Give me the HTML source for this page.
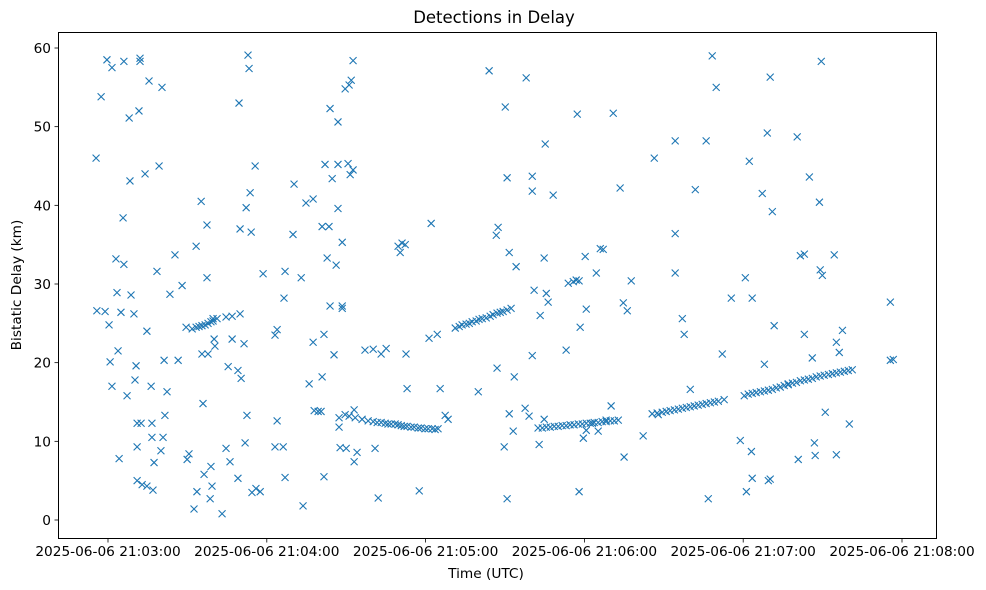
<!DOCTYPE html>
<html><head><meta charset="utf-8"><style>
html,body{margin:0;padding:0;background:#fff;}
svg{display:block;font-family:"DejaVu Sans","Liberation Sans",sans-serif;}
</style></head><body>
<svg id="chart" width="986" height="590" viewBox="0 0 986 590" xmlns="http://www.w3.org/2000/svg">
<rect x="0" y="0" width="986" height="590" fill="#fff"/>
<text x="494" y="23" text-anchor="middle" font-size="16.5" fill="#000">Detections in Delay</text>
<text x="486" y="578" text-anchor="middle" font-size="13.7" fill="#000">Time (UTC)</text>
<text transform="translate(21,285) rotate(-90)" text-anchor="middle" font-size="13.7" fill="#000">Bistatic Delay (km)</text>
<g id="marks"></g>
<g id="axes"></g>
<rect x="58.5" y="32.5" width="878" height="506" fill="none" stroke="#000" stroke-width="1"/>
</svg>
<script>
// time: seconds after 2025-06-06 21:03:00 UTC; delay: km
const xTickSeconds = [0, 60, 120, 180, 240, 300];
const xTickLabels = ["2025-06-06 21:03:00","2025-06-06 21:04:00","2025-06-06 21:05:00","2025-06-06 21:06:00","2025-06-06 21:07:00","2025-06-06 21:08:00"];
const yTickValues = [0, 10, 20, 30, 40, 50, 60];
const scatterDetections = [
[-4.5,46],[-4.2,26.6],[-2.6,53.8],[-1.1,26.5],[-0.4,58.5],[0.4,24.8],[0.8,20.1],[1.5,57.5],[1.5,17],[3,33.2],[3.4,28.9],[3.8,21.5],[4.2,7.8],[4.9,26.4],[5.7,38.4],[6,58.3],[6,32.5],[7.2,15.8],[8,51.1],[8.3,43.1],[8.7,28.6],[9.8,26.2],[10.2,17.8],[10.6,19.6],[11,12.3],[11,9.3],[11,5],[11.7,52],[12.1,58.3],[12.1,58.7],[12.5,12.3],[12.9,4.5],[14,44],[14.7,24],[14.7,4.3],[15.5,55.8],[16.3,17],[16.6,12.3],[16.6,10.5],[17,3.8],[17.4,7.3],[18.5,31.6],[19.3,45],[20,8.8],[20.4,55],[20.8,10.5],[21.2,20.3],[21.5,13.3],[22.3,16.3],[23.4,28.7],[25.3,33.7],[26.5,20.3],[28,29.8],[29.9,7.7],[30.6,8.4],[32.5,1.4],[33.3,34.8],[33.6,3.6],[35.2,40.5],[35.5,21.1],[35.9,14.8],[36.3,5.8],[37.4,37.5],[37.4,30.8],[37.8,21.1],[38.6,2.7],[38.9,6.8],[39.3,4.3],[40.1,23],[40.4,22.1],[43.1,0.8],[44.6,9.1],[45.4,19.5],[46.1,7.4],[46.9,23],[49.1,19],[49.1,5.3],[49.5,53],[49.9,37],[50.3,18],[51.4,22.4],[51.8,9.8],[52.2,39.7],[52.5,13.3],[52.9,59.1],[53.3,57.4],[53.7,41.6],[54.1,36.6],[54.4,3.5],[55.6,45],[55.9,4],[57.5,3.6],[58.6,31.3],[63.1,9.3],[63.1,23.5],[63.9,24.2],[63.9,12.6],[66.2,9.3],[66.5,28.2],[66.9,31.6],[66.9,5.4],[69.9,36.3],[70.3,42.7],[73,30.8],[73.7,1.8],[74.8,40.3],[76,17.3],[77.5,40.8],[77.5,22.6],[80.9,37.3],[80.9,18.2],[81.6,23.6],[81.6,5.5],[82,45.2],[82.8,33.3],[83.5,37.3],[83.9,52.3],[83.9,27.2],[84.7,43.4],[85.4,21],[86.2,32.4],[86.9,39.6],[86.9,50.6],[86.9,45.2],[87.3,13],[87.3,11.8],[87.7,9.2],[88.5,35.3],[88.5,26.9],[88.5,27.2],[89.6,54.8],[90,9.1],[90.7,45.3],[91.1,55.3],[91.5,43.9],[91.9,55.9],[92.6,44.5],[92.6,58.4],[93,7.4],[93,14],[94.1,8.6],[97.1,21.6],[100.2,21.7],[100.9,9.1],[102.1,2.8],[103.2,21.1],[105.1,21.8],[109.6,34.8],[110.4,34],[111.1,35.2],[112.3,35],[112.6,21.1],[113,16.7],[117.6,3.7],[121.3,23.1],[122.1,37.7],[124.4,23.6],[125.5,16.7],[127.4,13.3],[128.5,12.8],[139.9,16.3],[144,57.1],[146.7,36.2],[147,19.3],[147.4,37.2],[149.7,9.3],[150.1,52.5],[150.8,43.5],[150.8,2.7],[151.6,13.5],[151.6,34],[153.1,11.3],[153.5,18.2],[154.2,32.2],[157.6,14.2],[158,56.2],[159.1,13.2],[160.3,41.8],[160.3,43.7],[160.3,20.9],[161,29.2],[162.9,9.6],[163.3,26],[164.8,33.3],[164.8,12.8],[165.2,47.8],[165.6,28.8],[166.3,27.7],[168.2,41.3],[173.1,21.6],[173.9,30.1],[175.8,30.3],[176.9,30.5],[177.3,51.6],[178,30.4],[178,3.6],[178.4,24.5],[179.6,10.4],[180.3,33.5],[180.7,26.8],[180.7,11.4],[183,12.3],[184.5,31.4],[185.2,11.3],[186,34.5],[187.1,34.4],[188.2,12.7],[190.1,14.5],[190.9,51.7],[193.5,42.2],[194.7,27.6],[195,8],[196.2,26.6],[197.7,30.4],[202.2,10.7],[206.4,46],[207.9,13.4],[214.3,48.2],[214.3,36.4],[214.3,31.4],[217,25.6],[217.7,23.6],[220,16.6],[221.9,42],[226,48.2],[226.8,2.7],[228.3,59],[229.8,55],[232.1,21.1],[235.5,28.2],[238.9,10.1],[240.8,30.8],[241.2,3.6],[242.3,45.6],[243.4,28.2],[243.1,8.7],[243.4,5.3],[247.2,41.5],[248,19.8],[249.1,49.2],[249.5,5],[250.2,5.2],[250.2,56.3],[251,39.2],[251.7,24.7],[257,17.3],[260.4,48.7],[260.8,7.7],[261.6,33.6],[263.1,33.8],[263.1,23.6],[265,43.6],[266.1,20.6],[266.9,9.8],[267.2,8.2],[268.8,40.4],[269.1,31.8],[269.5,58.3],[269.9,31.1],[271,13.7],[274.4,33.7],[275.2,8.3],[275.2,22.6],[276.3,21.3],[277.5,24.1],[280.1,12.2],[295.6,27.7],[295.6,20.3],[296.7,20.4]
];
const trackDetections = [
[29.5,24.5],[31.8,24.3],[33.3,24.5],[34.4,24.6],[35.5,24.7],[36.7,24.8],[37.8,25],[38.9,25.2],[39.7,25.3],[41.2,25.6],[44.6,25.8],[46.9,25.9],[49.9,26.2],[39.7,25.6],
[77.9,13.9],[79.4,13.8],[80.5,13.8],[89.6,13.4],[91.1,13.2],[93.4,13],[96,12.8],[98.3,12.6],[100.2,12.5],[101.7,12.4],[103.2,12.4],[104.7,12.3],[105.8,12.2],[107,12.2],[108.5,12.2],[109.6,12.1],[110.8,12],[111.9,11.9],[113,11.9],[114.5,11.8],[115.7,11.8],[117.2,11.7],[118.3,11.7],[119.8,11.6],[121,11.6],[122.5,11.6],[123.6,11.5],[124.7,11.6],
[131.2,24.4],[132.7,24.6],[133.8,24.8],[135.3,24.9],[136.5,25],[137.6,25.2],[139.1,25.3],[140.2,25.5],[141.4,25.6],[142.9,25.7],[144.4,25.9],[145.5,26.1],[147,26.3],[148.2,26.4],[149.3,26.5],[150.8,26.7],[152.3,26.9],
[162.5,11.7],[164.1,11.7],[165.6,11.8],[167.1,11.8],[168.6,11.9],[170.1,11.9],[171.6,12],[173.1,12],[174.6,12.1],[176.1,12.1],[177.7,12.2],[179.2,12.2],[180.7,12.3],[182.2,12.3],[183.7,12.4],[185.2,12.4],[186.7,12.5],[188.2,12.5],[189.8,12.6],[191.3,12.6],[192.8,12.7],
[205.6,13.5],[207.5,13.6],[209.4,13.7],[210.9,13.8],[212.4,13.9],[214,14],[215.5,14.1],[217,14.2],[218.5,14.3],[220,14.4],[221.5,14.5],[223,14.6],[224.5,14.7],[226,14.8],[227.6,14.9],[229.1,15],[230.6,15.1],[232.8,15.3],
[240.4,15.8],[241.9,16],[243.4,16.1],[244.9,16.2],[246.5,16.3],[248,16.4],[249.5,16.5],[251,16.6],[252.5,16.8],[254,16.9],[255.5,17.1],[257,17.2],[258.6,17.4],[260.1,17.5],[261.6,17.7],[263.1,17.8],[264.6,17.9],[266.1,18],[267.6,18.2],[269.1,18.3],[270.6,18.4],[272.2,18.5],[273.7,18.6],[275.2,18.7],[276.7,18.8],[278.2,18.9],[279.7,19],[281.2,19.1]
];
const NS='http://www.w3.org/2000/svg';
const X0=108, PXS=158.8/60, Y0=520, PXK=472/60;
function xScale(t){return X0+t*PXS;}
function yScale(k){return Y0-k*PXK;}
const marks=document.getElementById('marks');
const axes=document.getElementById('axes');
function mk(tag,attrs,parent){const e=document.createElementNS(NS,tag);for(const k in attrs)e.setAttribute(k,attrs[k]);parent.appendChild(e);return e;}
function drawX(d){
  const cx=xScale(d[0]), cy=yScale(d[1]), r=3.5;
  const p=mk('path',{d:`M${cx-r},${cy-r}L${cx+r},${cy+r}M${cx-r},${cy+r}L${cx+r},${cy-r}`,stroke:'#1f77b4','stroke-width':1.1,fill:'none'},marks);
  
  
}
scatterDetections.forEach(drawX);
trackDetections.forEach(drawX);
xTickSeconds.forEach((s,i)=>{
  const x=xScale(s);
  const l=mk('line',{x1:x,x2:x,y1:538.5,y2:542.5,stroke:'#000','stroke-width':0.8},axes);
  
  
  const t=mk('text',{x:x,y:556,'text-anchor':'middle','font-size':13.7,fill:'#000'},axes);
  t.textContent=xTickLabels[i];
  
  
});
yTickValues.forEach(v=>{
  const y=yScale(v);
  const l=mk('line',{x1:54.5,x2:58.5,y1:y,y2:y,stroke:'#000','stroke-width':0.8},axes);
  
  
  const t=mk('text',{x:51,y:y+5,'text-anchor':'end','font-size':13.7,fill:'#000'},axes);
  t.textContent=String(v);
  
  
});
</script>
</body></html>
